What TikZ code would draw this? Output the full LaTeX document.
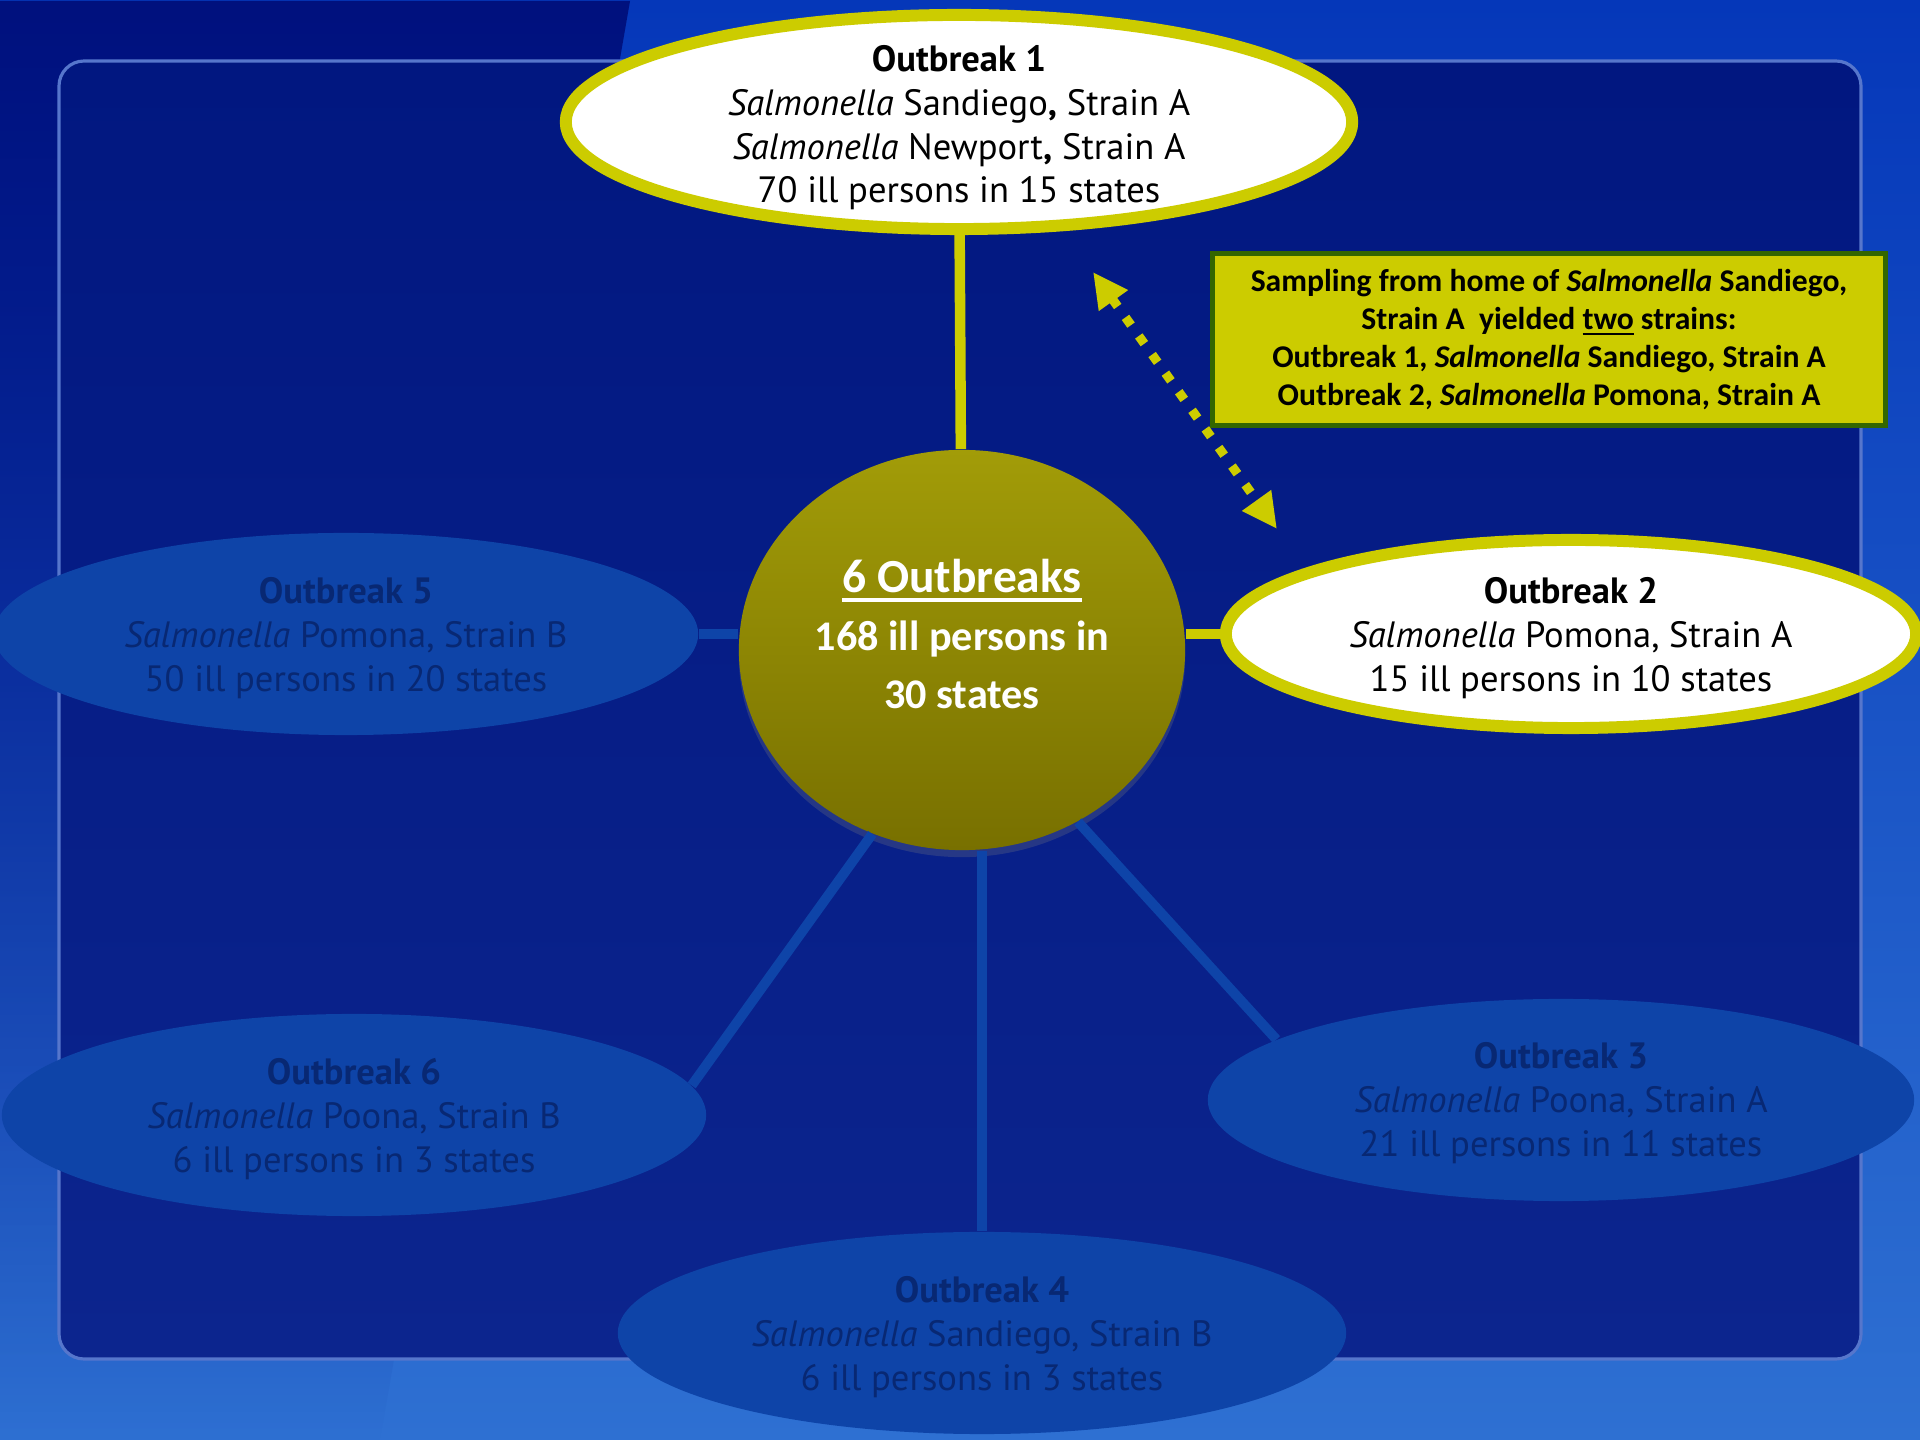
\documentclass[tikz,border=0pt]{standalone}
\usepackage{fontspec}
\setmainfont{PT Sans}
\newfontfamily\calfont{Carlito}
\usetikzlibrary{shapes.geometric,arrows.meta,fadings,shadows}

\definecolor{ylw}{HTML}{CCCC00}
\definecolor{boxgreen}{HTML}{336600}
\definecolor{bgtop}{HTML}{0537B9}
\definecolor{bgbot}{HTML}{2E70D2}
\definecolor{bgnavy}{HTML}{00117E}
\definecolor{paneltop}{HTML}{011780}
\definecolor{panelbot}{HTML}{0C258E}
\definecolor{panelrim}{HTML}{5676CC}
\definecolor{fadeblue}{HTML}{0E44A8}
\definecolor{fadetext}{HTML}{082873}
\definecolor{hubtop}{HTML}{A29C08}
\definecolor{hubbot}{HTML}{787000}

% underline with adjustable depth and thickness
\newcommand\ulbar[3]{\setbox0\hbox{#3}\rlap{\rule[-#1]{\wd0}{#2}}\box0\relax}

\tikzset{
  mainell/.style={ellipse, draw=ylw, line width=3.4pt, fill=white, inner sep=0pt},
  fadeell/.style={ellipse, fill=fadeblue, inner sep=0pt},
  maintext/.style={align=center, text=black, font=\fontsize{10.4}{12.4}\selectfont},
  fadetxt/.style={align=center, text=fadetext, font=\fontsize{10.4}{12.4}\selectfont},
  yconn/.style={draw=ylw, line width=3pt},
  bconn/.style={draw=fadeblue, line width=2.8pt},
  notebox/.style={rectangle, draw=boxgreen, fill=ylw, line width=1.4pt, inner sep=0pt,
    align=center, text=black, font=\calfont\bfseries\fontsize{9}{10.8}\selectfont},
  hubstyle/.style={ellipse, inner sep=0pt, top color=hubtop, bottom color=hubbot,
    drop shadow={shadow xshift=0pt, shadow yshift=-2pt, opacity=0.25}},
  hubtext/.style={align=center, text=white, font=\calfont\bfseries\fontsize{12}{16.5}\selectfont},
  dotarrow/.style={draw=ylw, line width=2.6pt, dash pattern=on 2.7pt off 3.8pt,
    {Triangle[length=10pt,width=9.5pt]}-{Triangle[length=10pt,width=9.5pt]}}
}

\begin{document}
\begin{tikzpicture}[x=0.01cm,y=-0.01cm]
\useasboundingbox (0,0) rectangle (1920,1440);

% backdrop
\shade[top color=bgtop, bottom color=bgbot] (0,0) rectangle (1920,1440);
\fill[bgnavy, path fading=south] (0,0) -- (630,0) -- (380,1440) -- (0,1440) -- cycle;
\shade[top color=paneltop, bottom color=panelbot, rounded corners=0.25cm]
  (59,61) rectangle (1861,1359);
\draw[panelrim, line width=0.9pt, rounded corners=0.25cm] (59,61) rectangle (1861,1359);

% hub
\node[hubstyle, minimum width=4.46cm, minimum height=4.0cm] (hub) at (962,650) {};
\node[hubtext] (hubtxt) at (962,634)
  {{\fontsize{13.5}{16.5}\selectfont\ulbar{2.6pt}{0.9pt}{6 Outbreaks}}\\168 ill persons in\\30 states};

% outbreak ellipses
\node[mainell, minimum width=7.86cm, minimum height=2.14cm] (o1) at (959,122) {};
\node[mainell, minimum width=6.9cm, minimum height=1.88cm] (o2) at (1571,634) {};
\node[fadeell, minimum width=7.06cm, minimum height=2.02cm] (o3) at (1561,1100) {};
\node[fadeell, minimum width=7.28cm, minimum height=2.02cm] (o4) at (982,1333) {};
\node[fadeell, minimum width=7.04cm, minimum height=2.02cm] (o5) at (346,634) {};
\node[fadeell, minimum width=7.04cm, minimum height=2.02cm] (o6) at (354,1115) {};

% their texts
\node[maintext] (o1t) at (959,128)
  {\textbf{Outbreak 1}\\\textit{Salmonella} Sandiego\textbf{,} Strain A\\
   \textit{Salmonella} Newport\textbf{,} Strain A\\70 ill persons in 15 states};
\node[maintext] (o2t) at (1571,638)
  {\textbf{Outbreak 2}\\\textit{Salmonella} Pomona, Strain A\\15 ill persons in 10 states};
\node[fadetxt] (o3t) at (1561,1103)
  {\textbf{Outbreak 3}\\\textit{Salmonella} Poona, Strain A\\21 ill persons in 11 states};
\node[fadetxt] (o4t) at (982,1337)
  {\textbf{Outbreak 4}\\\textit{Salmonella} Sandiego, Strain B\\6 ill persons in 3 states};
\node[fadetxt] (o5t) at (346,638)
  {\textbf{Outbreak 5}\\\textit{Salmonella} Pomona, Strain B\\50 ill persons in 20 states};
\node[fadetxt] (o6t) at (354,1119)
  {\textbf{Outbreak 6}\\\textit{Salmonella} Poona, Strain B\\6 ill persons in 3 states};

% spokes from the hub
\draw[yconn] (o1) -- (hub);
\draw[yconn] (o2.west) -- (o2.west -| hub.east);
\draw[bconn] (o5.east) -- (o5.east -| hub.west);
\draw[bconn] (o6.5) -- (hub.244);
\draw[bconn] (o3.168) -- (hub.304);
\draw[bconn] (o4.north) -- (o4.north |- hub.south);

% note box and its double-headed dotted pointer
\node[notebox, minimum width=6.73cm, minimum height=1.71cm] (note) at (1549,339.5)
  {Sampling from home of \textit{Salmonella} Sandiego,\\
   Strain A\ \ yielded \ulbar{1.6pt}{0.6pt}{two} strains:\\
   Outbreak 1, \textit{Salmonella} Sandiego, Strain A\\
   Outbreak 2, \textit{Salmonella} Pomona, Strain A};

\coordinate (dtop) at (1093,272);
\coordinate (dbot) at (1277,529);
\draw[dotarrow] (dtop) -- (dbot);
\end{tikzpicture}
\end{document}
